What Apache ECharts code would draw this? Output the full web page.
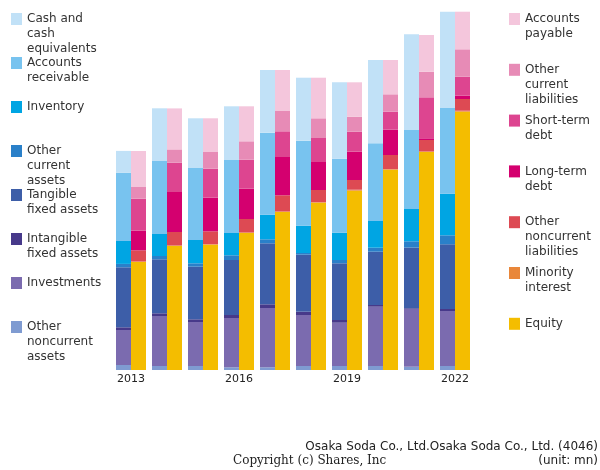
<!DOCTYPE html>
<html>
<head>
<meta charset="utf-8">
<script src="https://cdn.jsdelivr.net/npm/echarts@6/dist/echarts.min.js"></script>
<style>
html,body{margin:0;padding:0;background:#fff;}
#chart{width:600px;height:470px;}
</style>
</head>
<body>
<div id="chart"></div>
<script>
// Years (categories)
var years = ['2013','2014','2015','2016','2017','2018','2019','2020','2021','2022'];

// Assets (unit: mn)
var cash          = [11000, 26350, 24850, 26850, 31350, 31500, 38200, 41650, 47850, 48150];
var receivables   = [34000, 36500, 36000, 36500, 41000, 42500, 37000, 38850, 39500, 42850];
var inventory     = [11500, 11000, 11650, 11150, 12300, 13650, 13650, 13350, 16150, 20800];
var otherCurrent  = [1700, 1650, 1700, 2350, 2000, 850, 1650, 2000, 3150, 4500];
var tangible      = [30000, 27000, 26300, 27500, 30500, 28500, 28350, 26650, 30350, 32350];
var intangible    = [1350, 1350, 1350, 1500, 1850, 1650, 1350, 850, 350, 1000];
var investments   = [17500, 25000, 22000, 24650, 29650, 25500, 21650, 29650, 28850, 27500];
var otherNoncur   = [2500, 2000, 2000, 1350, 1350, 2000, 2000, 2000, 1650, 2000];

// Liabilities & equity (unit: mn)
var payable       = [18000, 20500, 16850, 17500, 20500, 20300, 17200, 17150, 18350, 18800];
var otherCurLiab  = [5850, 6650, 8350, 9200, 10150, 9850, 7500, 8700, 12800, 13700];
var shortDebt     = [16000, 14650, 14500, 14500, 12850, 12000, 10000, 9000, 20500, 9500];
var longDebt      = [9800, 20000, 16800, 15150, 19150, 14000, 14150, 12650, 850, 1650];
var otherNcLiab   = [5550, 6700, 6400, 6700, 8050, 6050, 4850, 7050, 5700, 5850];
var minority      = [300, 300, 300, 300, 300, 300, 500, 300, 300, 500];
var equity        = [54000, 62000, 62650, 68500, 79000, 83650, 89650, 100150, 109000, 129150];

var xLabels = ['2013','2016','2019','2022'];

var assetSeries = [
  {name:'Other noncurrent assets', data: otherNoncur, color:'#7f9bd1', label:'Other\nnoncurrent\nassets'},
  {name:'Investments', data: investments, color:'#7b6baf', label:'Investments'},
  {name:'Intangible fixed assets', data: intangible, color:'#47398a', label:'Intangible\nfixed assets'},
  {name:'Tangible fixed assets', data: tangible, color:'#3d5ea8', label:'Tangible\nfixed assets'},
  {name:'Other current assets', data: otherCurrent, color:'#2a80c9', label:'Other\ncurrent\nassets'},
  {name:'Inventory', data: inventory, color:'#00a5e3', label:'Inventory'},
  {name:'Accounts receivable', data: receivables, color:'#78c3ef', label:'Accounts\nreceivable'},
  {name:'Cash and cash equivalents', data: cash, color:'#c1e1f7', label:'Cash and\ncash\nequivalents'}
];
var liabSeries = [
  {name:'Equity', data: equity, color:'#f4bd00', label:'Equity'},
  {name:'Minority interest', data: minority, color:'#e9873a', label:'Minority\ninterest'},
  {name:'Other noncurrent liabilities', data: otherNcLiab, color:'#dd4a53', label:'Other\nnoncurrent\nliabilities'},
  {name:'Long-term debt', data: longDebt, color:'#d4006f', label:'Long-term\ndebt'},
  {name:'Short-term debt', data: shortDebt, color:'#dd4590', label:'Short-term\ndebt'},
  {name:'Other current liabilities', data: otherCurLiab, color:'#e78bb6', label:'Other\ncurrent\nliabilities'},
  {name:'Accounts payable', data: payable, color:'#f4c6dc', label:'Accounts\npayable'}
];

var series = [];
assetSeries.forEach(function(s){
  series.push({name:s.name, type:'bar', stack:'assets', data:s.data, barWidth:15, barGap:'0%',
    itemStyle:{color:s.color}, emphasis:{disabled:true}});
});
liabSeries.forEach(function(s){
  series.push({name:s.name, type:'bar', stack:'liab', data:s.data, barWidth:15, barGap:'0%',
    itemStyle:{color:s.color}, emphasis:{disabled:true}});
});

var labelMap = {};
assetSeries.concat(liabSeries).forEach(function(s){ labelMap[s.name] = s.label; });

function lineCount(name){ return labelMap[name].split('\n').length; }

var LH = 15;
function makeLegend(name, left, iconTop){
  var n = lineCount(name);
  // prepend (n-1) empty lines so the first real line is centred on the icon
  var prefix = new Array(n).join('\n');
  var boxTop = Math.min(0, 6 - (2*n - 1) * LH / 2);
  return {
    data:[name], left:left, top: iconTop + boxTop, padding:0, orient:'vertical',
    itemWidth:11, itemHeight:12, icon:'rect', selectedMode:false,
    formatter:function(nm){ return prefix + labelMap[nm]; },
    textStyle:{fontFamily:'DejaVu Sans', fontSize:12, color:'#333', lineHeight:LH}
  };
}

var leftOrder = ['Cash and cash equivalents','Accounts receivable','Inventory','Other current assets',
  'Tangible fixed assets','Intangible fixed assets','Investments','Other noncurrent assets'];
var rightOrder = ['Accounts payable','Other current liabilities','Short-term debt','Long-term debt',
  'Other noncurrent liabilities','Minority interest','Equity'];

var legends = [];
leftOrder.forEach(function(nm, i){ legends.push(makeLegend(nm, 11, 13 + 44*i)); });
rightOrder.forEach(function(nm, i){ legends.push(makeLegend(nm, 509, 13 + 50.8*i)); });

var chart = echarts.init(document.getElementById('chart'), null, {renderer:'canvas'});
chart.setOption({
  animation:false,
  backgroundColor:'#fff',
  legend: legends,
  grid:{left:113, right:127, top:10, bottom:100, containLabel:false},
  xAxis:{type:'category', data:years,
    axisLine:{show:false}, axisTick:{show:false},
    axisLabel:{interval:2, margin:4, fontFamily:'DejaVu Sans', fontSize:11, color:'#222',
      formatter:function(v){ return xLabels.indexOf(v) >= 0 ? v : ''; }}},
  yAxis:{type:'value', min:0, max:180000, show:false, splitLine:{show:false}},
  series: series,
  graphic:[
    {type:'text', right:2, top:441, style:{text:'Osaka Soda Co., Ltd.Osaka Soda Co., Ltd. (4046)',
      font:'12px "DejaVu Sans"', fill:'#222'}},
    {type:'text', right:2, top:455, style:{text:'(unit: mn)',
      font:'12px "DejaVu Sans"', fill:'#222'}},
    {type:'text', left:233, top:455, style:{text:'Copyright (c) Shares, Inc',
      font:'12px "DejaVu Serif"', fill:'#222'}}
  ]
});
</script>
</body>
</html>
